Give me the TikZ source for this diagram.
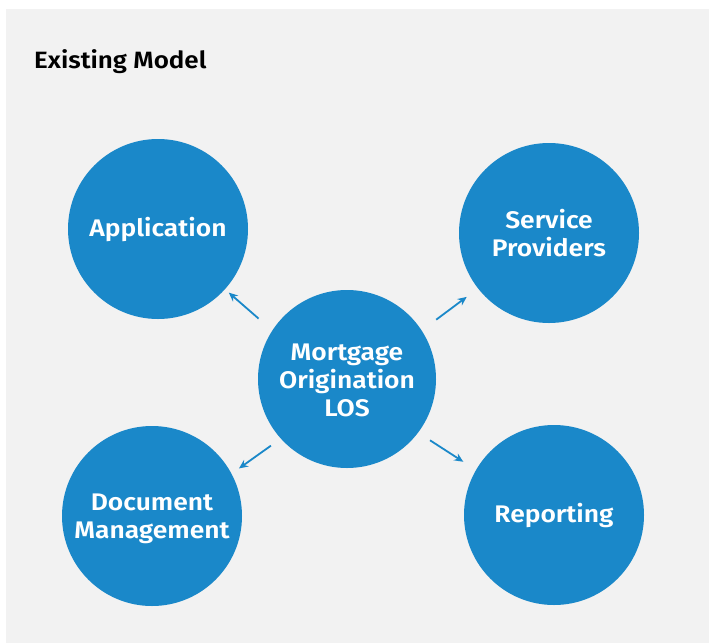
\documentclass[tikz,border=0pt]{standalone}
\usepackage{fontspec}
\setmainfont{Fira Sans}[BoldFont={Fira Sans SemiBold}, FakeStretch=1.1]
\definecolor{panelgray}{HTML}{F2F2F2}
\definecolor{losblue}{HTML}{1A88C9}
\begin{document}
\begin{tikzpicture}[x=1pt,y=-1pt,
  bubble/.style={circle, fill=losblue, minimum size=180pt, inner sep=0pt},
  bubbletext/.style={text=white, font=\bfseries\fontsize{24}{28}\selectfont, align=center, inner sep=0pt},
  flow/.style={draw=losblue, line width=1.8pt, -{Stealth[length=9pt,width=8pt]}}]
\usetikzlibrary{arrows.meta}
% canvas and panel
\useasboundingbox (0,0) rectangle (709,643);
\fill[white] (0,0) rectangle (709,643);
\fill[panelgray] (6,9) rectangle (709,643);
% title
\node[anchor=base west, inner sep=0pt, font=\bfseries\fontsize{23.6}{27}\selectfont] (title) at (34,68) {Existing Model};
% bubbles
\node[bubble] (app) at (158,229) {};
\node[bubble] (svc) at (549,233) {};
\node[bubble, minimum size=178pt] (los) at (347,379) {};
\node[bubble] (doc) at (152,516) {};
\node[bubble] (rep) at (554,515) {};
% bubble captions
\node[bubbletext] (applbl) at (app) {Application};
\node[bubbletext] (svclbl) at (svc) {Service\\Providers};
\node[bubbletext] (loslbl) at ([yshift=-1pt]los.center) {Mortgage\\Origination\\LOS};
\node[bubbletext] (doclbl) at ([yshift=-3pt]doc.center) {Document\\Management};
\node[bubbletext] (replbl) at (rep) {Reporting};
% connectors
\draw[flow, shorten <=18pt, shorten >=5pt] (los.147) -- (app.-42);
\draw[flow, shorten <=18pt, shorten >=14pt] (los.33) -- (svc.218);
\draw[flow, shorten <=12pt, shorten >=9pt] (los.222) -- (doc.28);
\draw[flow, shorten <=14pt, shorten >=15pt] (los.-37) -- (rep.150);
\end{tikzpicture}
\end{document}
